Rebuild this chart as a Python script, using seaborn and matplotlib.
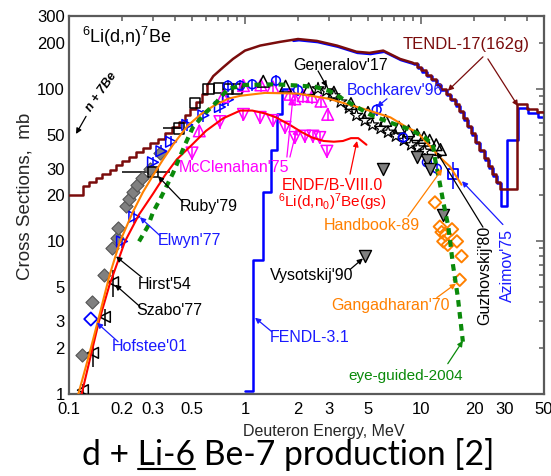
import numpy as np
import pandas as pd
import seaborn as sns
import matplotlib
matplotlib.use("Agg")
import matplotlib.pyplot as plt
from matplotlib import ticker, transforms

# ---------------- data ----------------
# TENDL-17(162g): low-energy staircase, smooth middle, high-energy staircase
tendl_lo_E = [0.100, 0.120, 0.130, 0.142, 0.155, 0.170, 0.185, 0.200, 0.220, 0.240, 0.265,
              0.290, 0.320, 0.350, 0.385, 0.420, 0.455, 0.490, 0.530, 0.570, 0.610]
tendl_lo_xs = [20, 23, 24.5, 26, 27.5, 29.5, 31.5, 33.5, 36, 38.5, 41,
               44, 47, 51, 56, 61, 67, 74, 82, 92, 105]
tendl_mid_E = [0.61, 0.66, 0.75, 0.855, 1.0, 1.22, 1.58, 2.0, 2.56, 3.33, 4.3, 5.1, 6.1, 7.6, 9.0]
tendl_mid_xs = [105, 121, 138, 157, 178, 192, 203, 212, 206, 192, 175, 172, 178, 157, 148]
tendl_hi_E = [9.0, 9.5, 10.0, 10.7, 11.4, 12.1, 12.9, 13.8, 14.7, 15.7, 16.5, 17.4, 18.3, 19.3,
              20.4, 21.5, 22.7, 24.0, 25.4, 26.8, 28.2, 35.0, 40.0, 45.6, 50.0]
tendl_hi_xs = [148, 140, 132, 124, 116, 108, 100, 93, 86, 79, 72, 64, 57, 51,
               45, 40, 35, 31, 27.5, 24.5, 22, 80, 74, 70, 70]

# FENDL-3.1
fendl_lo_E = [1.00, 1.11, 1.27, 1.41, 1.53, 1.63, 1.86]
fendl_lo_xs = [1.05, 7.5, 21, 40, 68, 100, 100]
fendl_mid_E = [1.86, 2.0, 2.56, 3.33, 4.3, 5.1, 6.1, 7.6, 9.0]
fendl_mid_xs = [210, 212, 206, 192, 175, 172, 178, 157, 148]
fendl_hi_E = [9.0, 9.5, 10.0, 10.7, 11.4, 12.1, 12.9, 13.8, 14.7, 15.7, 16.5, 17.4, 18.3, 19.3,
              20.4, 21.5, 22.7, 24.0, 25.4, 26.8, 28.2, 30.4, 35.0, 40.0, 45.6, 50.0]
fendl_hi_xs = [148, 140, 132, 124, 116, 108, 100, 93, 86, 79, 72, 64, 57, 51,
               45, 40, 35, 31, 27.5, 24.5, 17.5, 47, 76, 71, 67, 67]

# ENDF/B-VIII.0  6Li(d,n0)7Be(gs)
endf_E = [0.118, 0.13, 0.148, 0.17, 0.208, 0.25, 0.3, 0.35, 0.41, 0.5, 0.6, 0.75, 0.94, 1.1,
          1.3, 1.5, 1.8, 2.1, 2.4, 2.8, 3.2, 3.6, 4.0, 4.4, 4.9]
endf_xs = [1.0, 1.6, 3.0, 5.2, 10, 15, 20.5, 27, 34.5, 43, 53, 64, 72, 72,
           69, 65, 58, 52, 48, 45.5, 45, 45.5, 47.5, 47.5, 43]

# Handbook-89
hb_E = [0.113, 0.13, 0.15, 0.17, 0.195, 0.23, 0.263, 0.30, 0.34, 0.39, 0.47, 0.56, 0.66, 0.8,
        0.94, 1.3, 2.0, 3.0, 4.7, 6.7, 8.3, 9.5, 11.7, 13.0, 14.6, 17.0]
hb_xs = [1.0, 1.8, 3.4, 6.0, 10, 15.5, 21, 27, 34, 43, 57, 68, 77, 86,
         90, 94, 93, 86, 74, 65, 56, 52, 40, 35, 31, 23.5]

# eye-guided-2004
eg_E = [0.25, 0.28, 0.30, 0.33, 0.39, 0.456, 0.506, 0.6, 0.69, 0.8, 1.0, 1.5, 2.0, 2.5, 3.0,
        4.0, 5.1, 6.7, 8.7, 10.5, 11.7, 12.0, 12.8, 13.4, 14.3, 15.2, 16.2, 17.3]
eg_xs = [10, 12.5, 15.5, 19, 28, 43, 56, 70, 82, 100, 106, 107, 105, 103, 97,
         80, 68, 60, 54, 48, 43, 35, 24, 18, 12.5, 7, 4.3, 2.2]

# experiments
hirst_E = [0.118, 0.135, 0.158, 0.175, 0.187, 0.19, 0.21, 0.22, 0.23, 0.245, 0.26, 0.29, 0.33]
hirst_xs = [1.8, 4.0, 6.0, 9.0, 10.6, 12.3, 17, 19, 21, 23.5, 26, 30, 38]

szabo_E = [0.12, 0.137, 0.16, 0.178]
szabo_xs = [1.06, 1.86, 3.2, 5.4]
szabo_err = [0.1, 0.35, 0.4, 1.1]

hof_E = [0.133]
hof_xs = [3.1]

elwyn_E = [0.20, 0.235, 0.30, 0.335, 0.38, 0.47, 0.58, 0.72, 0.80]
elwyn_xs = [10.0, 14.5, 33, 39, 45, 58, 67, 76, 85]
elwyn_relerr = 0.09

ruby_E = [0.30, 0.42, 0.52, 0.62, 0.71, 0.80, 0.90]
ruby_xs = [28.5, 55, 81, 100, 101, 100, 100]
ruby_xerr_lo = [0.10, 0.08, 0, 0, 0, 0, 0]
ruby_xerr_hi = [0.075, 0.02, 0, 0, 0, 0, 0]

mcc_up_E = [0.55, 0.75, 0.98, 1.23, 1.44, 1.8, 1.92, 2.14, 2.4, 2.7, 2.95]
mcc_up_xs = [53, 89, 105, 106, 103, 92, 86, 90, 89, 83, 68]
mcc_dn_E = [0.50, 0.72, 0.98, 1.22, 1.44, 1.69, 1.92, 2.19, 2.43, 2.66, 2.92]
mcc_dn_xs = [38, 61, 68, 65, 62, 56, 48, 49, 49, 48, 39]
mcc_relerr = 0.1

boch_E = [0.80, 0.94, 1.1, 1.5, 2.0, 5.6, 7.9, 10.8, 12.3]
boch_xs = [105, 105, 107, 113, 98, 73, 48, 33, 30]
boch_relerr = 0.09

gen_E = [2.6, 2.9, 3.2, 3.5, 3.9, 4.3, 4.8, 5.3, 5.9, 6.5, 7.2, 8.0, 8.8, 9.6, 10.5]
gen_xs = [100, 97, 90, 82, 75, 67, 62, 58, 55, 52, 49, 46, 43, 41, 39]

guz_E = [1.27, 1.7, 2.3, 3.2, 4.0, 5.0, 6.3, 7.5, 8.5, 9.5, 10.4, 11.2, 12.2, 12.9]
guz_xs = [112, 104, 100, 95, 80, 70, 62, 56, 53, 50, 48, 46, 43, 40]

vys_E = [4.8, 6.1, 9.5, 10.8, 11.2, 13.4]
vys_xs = [8.0, 30, 36, 34, 30, 15]

gang_E = [12.0, 12.8, 13.1, 13.4, 13.8, 14.2, 15.0, 16.0, 17.0, 16.6]
gang_xs = [18, 12.5, 11.5, 10, 11, 9.5, 12, 10, 8, 5.6]

azi_E = [15.2]
azi_xs = [27.6]
azi_err = [5.5]

x_ticks_major = [0.1, 1, 10]
y_ticks_major = [1, 10, 100]

# ---------------- style ----------------
sns.set_theme(style="white")
plt.rcParams["font.family"] = ["Liberation Sans", "DejaVu Sans"]
plt.rcParams["mathtext.fontset"] = "custom"
plt.rcParams["mathtext.rm"] = "Liberation Sans"
plt.rcParams["mathtext.it"] = "Liberation Sans:italic"
plt.rcParams["mathtext.bf"] = "Liberation Sans:bold"

C_TENDL = "#7a0c0c"
C_BLUE = "#0000ff"
C_LBLUE = "#1a1aff"
C_MAG = "#ff00ff"
C_RED = "#ff0000"
C_ORG = "#ff8000"
C_GRN = "#0a8a0a"
C_GRAY = "#808080"

fig = plt.figure(figsize=(5.51, 4.76), dpi=100)
ax = fig.add_axes([69 / 551, 1 - 394 / 476, 475 / 551, 378 / 476])
ax.set_xscale("log")
ax.set_yscale("log")


def curve(E, xs, color, lw=1.8, steps=False, ls="-", z=2, transform=None):
    kw = {}
    if transform is not None:
        kw["transform"] = transform
    sns.lineplot(x=E, y=xs, ax=ax, color=color, lw=lw, estimator=None, sort=False,
                 drawstyle="steps-post" if steps else "default", linestyle=ls,
                 legend=False, zorder=z, **kw)


def pts(E, xs, marker, s, face, edge, lw=1.1, yerr=None, xerr=None, z=5):
    if yerr is not None or xerr is not None:
        ax.errorbar(E, xs, yerr=yerr, xerr=xerr, fmt="none", ecolor=edge,
                    elinewidth=1.1, capsize=0, zorder=z - 0.5)
    sns.scatterplot(x=E, y=xs, ax=ax, marker=marker, s=s, facecolor=face,
                    edgecolor=edge, linewidth=lw, legend=False, zorder=z)


shadow = transforms.offset_copy(ax.transData, fig=fig, x=1.0, y=-1.2, units="dots")

# evaluated curves
curve(fendl_lo_E, fendl_lo_xs, C_BLUE, steps=True, z=2)
curve(fendl_mid_E, fendl_mid_xs, C_BLUE, z=2, transform=shadow)
curve(fendl_hi_E, fendl_hi_xs, C_BLUE, steps=True, z=2, transform=shadow)
curve(tendl_lo_E, tendl_lo_xs, C_TENDL, steps=True, z=3)
curve(tendl_mid_E, tendl_mid_xs, C_TENDL, z=3)
curve(tendl_hi_E, tendl_hi_xs, C_TENDL, steps=True, z=3)

# experimental points
pts(hirst_E, hirst_xs, "D", 45, C_GRAY, "#555555", lw=0.8)
pts(szabo_E, szabo_xs, "<", 60, "none", "black", yerr=szabo_err)
pts(hof_E, hof_xs, "D", 45, "none", C_BLUE, lw=1.3)
pts(elwyn_E, elwyn_xs, ">", 60, "none", C_BLUE, yerr=np.array(elwyn_xs) * elwyn_relerr)
pts(ruby_E, ruby_xs, "s", 55, "none", "black", xerr=[ruby_xerr_lo, ruby_xerr_hi])
pts(mcc_up_E, mcc_up_xs, "^", 70, "none", C_MAG, yerr=np.array(mcc_up_xs) * mcc_relerr)
pts(mcc_dn_E, mcc_dn_xs, "v", 70, "none", C_MAG, yerr=np.array(mcc_dn_xs) * mcc_relerr)
pts(guz_E, guz_xs, "^", 70, "none", "black")
pts(gen_E, gen_xs, "*", 85, "none", "black", lw=0.9)
pts(boch_E, boch_xs, "o", 40, "none", C_BLUE, yerr=np.array(boch_xs) * boch_relerr)
pts(vys_E, vys_xs, "v", 75, C_GRAY, "black", lw=1.0)
pts(gang_E, gang_xs, "D", 40, "none", C_ORG, lw=1.4)
pts(azi_E, azi_xs, "s", 55, "none", C_BLUE, lw=1.3, yerr=azi_err)

curve(endf_E, endf_xs, C_RED, lw=1.5, z=6)
curve(hb_E, hb_xs, C_ORG, lw=1.5, z=6)
curve(eg_E, eg_xs, C_GRN, lw=3.0, ls=(0, (1.6, 1.3)), z=7)

ax.set_xlim(0.1, 50)
ax.set_ylim(1, 300)

# ---------------- axes cosmetics ----------------
for sp in ax.spines.values():
    sp.set_color("#5a5a5a")
    sp.set_linewidth(1.6)
ax.xaxis.set_major_locator(ticker.FixedLocator(x_ticks_major))
ax.yaxis.set_major_locator(ticker.FixedLocator(y_ticks_major))
ax.xaxis.set_minor_locator(ticker.LogLocator(base=10, subs=np.arange(2, 10)))
ax.yaxis.set_minor_locator(ticker.LogLocator(base=10, subs=np.arange(2, 10)))


def major_fmt(v, pos):
    return "%g" % v


def minor_fmt(v, pos):
    m = v / 10 ** np.floor(np.log10(v) + 1e-9)
    if any(abs(m - k) < 1e-6 for k in (2, 3, 5)):
        return "%g" % v
    return ""


for axis in (ax.xaxis, ax.yaxis):
    axis.set_major_formatter(ticker.FuncFormatter(major_fmt))
    axis.set_minor_formatter(ticker.FuncFormatter(minor_fmt))

ax.tick_params(which="both", direction="in", top=True, right=True, colors="#5a5a5a",
               labelcolor="black", labelsize=12, width=1.1)
ax.tick_params(which="major", length=6)
ax.tick_params(which="minor", length=3.5)
ax.tick_params(axis="x", which="both", pad=6)
ax.tick_params(axis="y", which="both", pad=3)

ax.set_xlabel("Deuteron Energy, MeV", fontsize=11.5)
ax.xaxis.set_label_coords((324 - 69) / 475, (394 - 424) / 378)
ax.set_ylabel("Cross Sections,  mb", fontsize=13.5)
ax.yaxis.set_label_coords((25 - 69) / 475, 0.524)
ax.yaxis.label.set_va("center")

# ---------------- annotations ----------------
ax.text(0.1186, 220, r"$^{6}$Li(d,n)$^{7}$Be", fontsize=13, ha="left", va="center", color="black")


def arrow(x0, y0, x1, y1, color, lw=0.9):
    ax.annotate("", xy=(x1, y1), xytext=(x0, y0),
                arrowprops=dict(arrowstyle="-|>", color=color, lw=lw, mutation_scale=8,
                                shrinkA=0, shrinkB=0), zorder=9)


labels = [
    ("TENDL-17(162g)", 18.0, 195, C_TENDL, 12, 0, [(22.5, 162, 14.2, 97), (24.0, 157, 35.6, 77)]),
    ("Generalov'17", 3.51, 142, "black", 11.5, 0, [(2.6, 131, 2.92, 103)]),
    ("Bochkarev'96", 7.12, 97, C_LBLUE, 11.5, 0, [(6.41, 86, 5.62, 76)]),
    ("McClenahan'75", 0.866, 30.7, C_MAG, 11.5, 0, [(1.73, 35.7, 1.87, 86), (1.80, 35.7, 1.97, 54.6)]),
    ("ENDF/B-VIII.0", 3.12, 23.4, C_RED, 11.5, 0, [(3.95, 27.6, 4.33, 45.5)]),
    (r"$^{6}$Li(d,n$_{0}$)$^{7}$Be(gs)", 3.12, 18.1, C_RED, 11, 0, []),
    ("Handbook-89", 5.27, 12.7, C_ORG, 11.5, 0, [(8.44, 14.6, 13.2, 29.8)]),
    ("Guzhovskij'80", 23.1, 5.97, "black", 11.5, 90, [(22.5, 12.4, 12.3, 38.5)]),
    ("Azimov'75", 31.2, 6.95, C_LBLUE, 11.5, 90, [(29.2, 12.9, 17.1, 24.8)]),
    ("Ruby'79", 0.624, 17.0, "black", 11.5, 0, [(0.444, 18.1, 0.32, 26.8)]),
    ("Elwyn'77", 0.481, 10.2, C_LBLUE, 11.5, 0, [(0.329, 10.9, 0.253, 14.4)]),
    ("Hirst'54", 0.351, 5.21, "black", 11.5, 0, [(0.26, 5.8, 0.185, 7.97)]),
    ("Szabo'77", 0.37, 3.52, "black", 11.5, 0, [(0.253, 3.74, 0.1826, 5.21)]),
    ("Hofstee'01", 0.289, 2.04, C_LBLUE, 11.5, 0, [(0.19, 2.2, 0.144, 2.93)]),
    ("Vysotskij'90", 2.40, 5.97, "black", 11.5, 0, [(3.95, 6.54, 4.68, 7.73)]),
    ("Gangadharan'70", 6.67, 3.79, C_ORG, 11.5, 0, [(12.3, 4.28, 15.8, 5.29)]),
    ("FENDL-3.1", 2.34, 2.34, C_LBLUE, 11.5, 0, [(1.42, 2.56, 1.14, 3.16)]),
    ("eye-guided-2004", 8.22, 1.31, C_GRN, 11, 0, [(14.2, 1.58, 17.3, 2.23)]),
]
for txt, x, y, c, fs, rot, arrs in labels:
    ax.text(x, y, txt, color=c, fontsize=fs, rotation=rot, ha="center", va="center", zorder=10)
    for a in arrs:
        arrow(*a, color=c)

ax.text(0.152, 95, "n + 7Be", fontsize=9, fontweight="bold", fontstyle="italic",
        rotation=55, ha="center", va="center", color="black")
arrow(0.125, 66, 0.1096, 50.6, "black")

# ---------------- bottom caption ----------------
CAP_FS = 24.2
CAP_FAM = ["Lato", "DejaVu Sans"]
cap_x, cap_y = 82 / 551, 1 - 465 / 476
cap = fig.text(cap_x, cap_y, "d + Li-6 Be-7 production [2]", fontsize=CAP_FS, family=CAP_FAM,
               ha="left", va="baseline", color="black")
fig.canvas.draw()
r = fig.canvas.get_renderer()
tmp1 = fig.text(cap_x, cap_y, "d + Li-6", fontsize=CAP_FS, family=CAP_FAM, ha="left", va="baseline")
tmp2 = fig.text(cap_x, cap_y, "Li-6", fontsize=CAP_FS, family=CAP_FAM, ha="left", va="baseline")
b1 = tmp1.get_window_extent(r)
b2 = tmp2.get_window_extent(r)
tmp1.remove()
tmp2.remove()
x1 = b1.x1
x0 = x1 - b2.width
yline = (476 - 468.5) / 476
fig.add_artist(plt.Line2D([x0 / 551, x1 / 551], [yline, yline], color="black", lw=1.5,
                          transform=fig.transFigure))

fig.savefig("out.png", dpi=100, facecolor="white")
